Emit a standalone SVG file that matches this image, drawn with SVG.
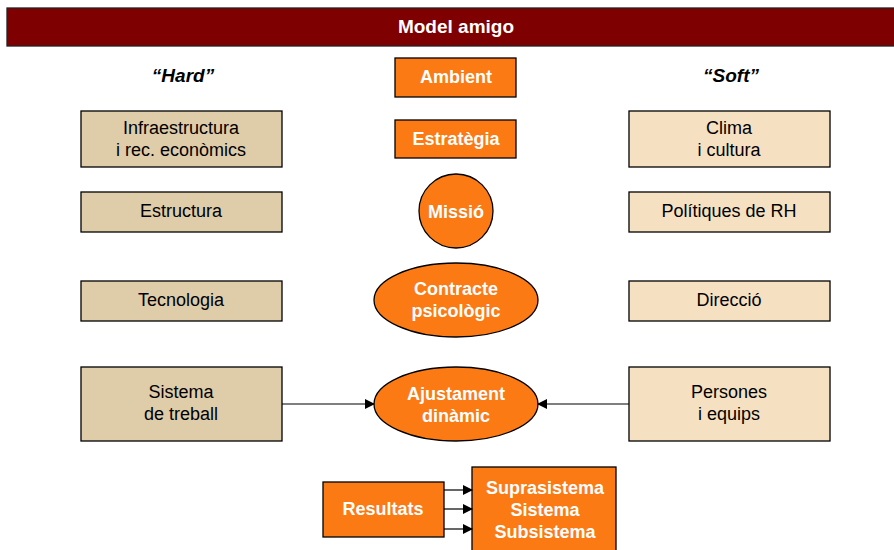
<svg xmlns="http://www.w3.org/2000/svg" width="894" height="550" viewBox="0 0 894 550">
<style>
.t{font-family:"Liberation Sans",Arial,sans-serif;text-anchor:middle;}
.w{fill:#fff;font-weight:bold;font-size:18px;}
.k{fill:#000;font-size:18px;}
.o{fill:#fc7a14;stroke:#000;stroke-width:1.3;}
.h{fill:#dfcca9;stroke:#000;stroke-width:1.3;}
.s{fill:#f5e1c1;stroke:#000;stroke-width:1.3;}
.c{stroke:#000;stroke-width:1.2;fill:none;marker-end:url(#a);}
</style>
<defs>
<marker id="a" markerWidth="10" markerHeight="10" refX="9" refY="5" orient="auto" markerUnits="userSpaceOnUse">
<path d="M0,0 L10,5 L0,10 z" fill="#000"/>
</marker>
</defs>
<g id="title">
<rect x="7" y="8" width="890" height="38" fill="#7f0000" stroke="#222" stroke-width="1.3"/>
<text class="t w" x="456" y="33" style="font-size:19px">Model amigo</text>
</g>
<g id="hard"><text class="t" x="183" y="82" font-size="19" font-weight="bold" font-style="italic">“Hard”</text></g>
<g id="soft"><text class="t" x="731" y="82" font-size="19" font-weight="bold" font-style="italic">“Soft”</text></g>
<g id="ambient"><rect class="o" x="395" y="58" width="121" height="39"/><text class="t w" x="456" y="83">Ambient</text></g>
<g id="estrategia"><rect class="o" x="395" y="120" width="121" height="38"/><text class="t w" x="456" y="145">Estratègia</text></g>
<g id="missio"><circle class="o" cx="456" cy="211" r="37"/><text class="t w" x="456" y="218">Missió</text></g>
<g id="contracte"><ellipse class="o" cx="456" cy="300" rx="82" ry="37"/><text class="t w" x="456" y="295">Contracte</text><text class="t w" x="456" y="317">psicològic</text></g>
<g id="ajustament"><ellipse class="o" cx="456" cy="404" rx="82" ry="37"/><text class="t w" x="456" y="400">Ajustament</text><text class="t w" x="456" y="422">dinàmic</text></g>
<g id="infra"><rect class="h" x="81" y="111" width="201" height="56"/><text class="t k" x="181" y="134">Infraestructura</text><text class="t k" x="181" y="156">i rec. econòmics</text></g>
<g id="estructura"><rect class="h" x="81" y="192" width="201" height="40"/><text class="t k" x="181" y="217">Estructura</text></g>
<g id="tecnologia"><rect class="h" x="81" y="281" width="201" height="40"/><text class="t k" x="181" y="306">Tecnologia</text></g>
<g id="sistema"><rect class="h" x="81" y="367" width="201" height="74"/><text class="t k" x="181" y="398">Sistema</text><text class="t k" x="181" y="420">de treball</text></g>
<g id="clima"><rect class="s" x="629" y="111" width="201" height="56"/><text class="t k" x="729" y="134">Clima</text><text class="t k" x="729" y="156">i cultura</text></g>
<g id="politiques"><rect class="s" x="629" y="192" width="201" height="40"/><text class="t k" x="729" y="217">Polítiques de RH</text></g>
<g id="direccio"><rect class="s" x="629" y="281" width="201" height="40"/><text class="t k" x="729" y="306">Direcció</text></g>
<g id="persones"><rect class="s" x="629" y="367" width="201" height="74"/><text class="t k" x="729" y="398">Persones</text><text class="t k" x="729" y="420">i equips</text></g>
<g id="resultats"><rect class="o" x="323" y="482" width="121" height="55"/><text class="t w" x="383" y="515">Resultats</text></g>
<g id="supra"><rect class="o" x="472" y="467" width="144" height="90"/><text class="t w" x="545" y="494">Suprasistema</text><text class="t w" x="545" y="516">Sistema</text><text class="t w" x="545" y="538">Subsistema</text></g>
<g id="connectors">
<line class="c" x1="282" y1="404" x2="374" y2="404"/>
<line class="c" x1="629" y1="404" x2="538" y2="404"/>
<line class="c" x1="444" y1="490" x2="472" y2="490"/>
<line class="c" x1="444" y1="509" x2="472" y2="509"/>
<line class="c" x1="444" y1="529" x2="472" y2="529"/>
</g>
</svg>
